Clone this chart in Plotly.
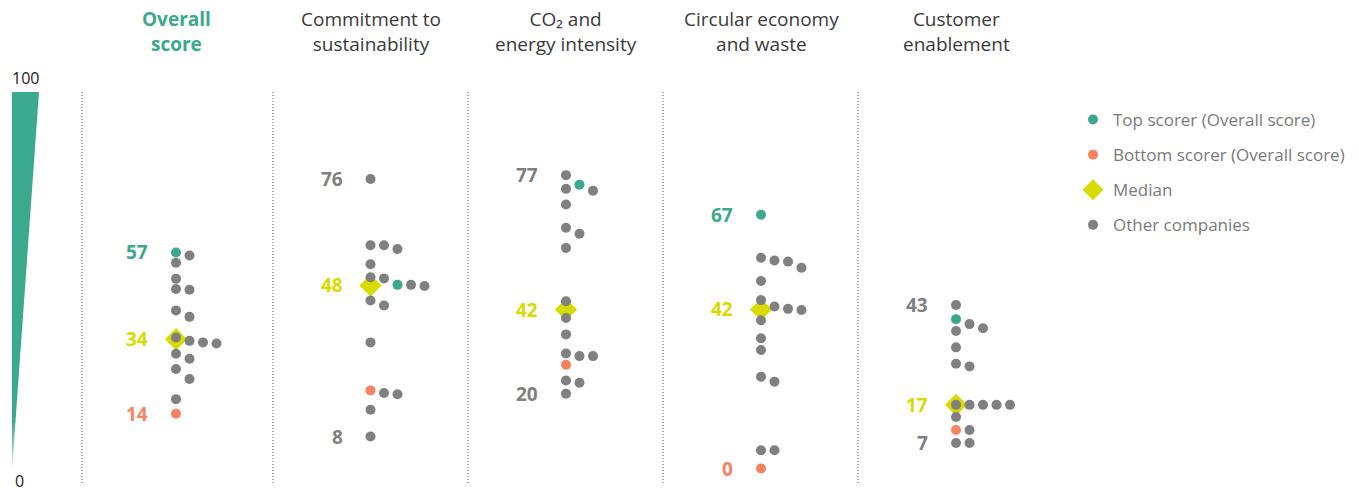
import plotly.graph_objects as go
import numpy as np

# ---------------- data ----------------
categories = ["Overall score", "Commitment to sustainability", "CO₂ and energy intensity",
              "Circular economy and waste", "Customer enablement"]
header_text = ["Overall<br>score", "Commitment to<br>sustainability",
               "CO₂ and<br>energy intensity", "Circular economy<br>and waste",
               "Customer<br>enablement"]

top_scorer = [56.7, 48.2, 74.5, 66.6, 39.2]
bottom_scorer = [14.4, 20.5, 27.2, 0.0, 10.1]

others_overall = [55.9, 54.0, 49.8, 47.1, 46.9, 41.5, 39.8, 34.4, 33.5, 33.1, 32.8, 30.1, 28.8, 26.1, 23.5, 18.2]
others_commitment = [76.0, 58.6, 58.6, 57.6, 53.6, 50.2, 49.9, 48.2, 47.9, 44.1, 42.8, 33.1, 19.8, 19.5, 15.4, 8.4]
others_co2 = [77.0, 73.4, 72.9, 69.3, 63.2, 61.6, 57.9, 43.9, 39.5, 35.2, 30.2, 29.5, 29.5, 23.1, 22.5, 19.6]
others_circular = [55.3, 54.6, 54.3, 52.7, 49.2, 44.2, 42.5, 41.9, 41.6, 38.9, 34.2, 31.1, 24.1, 22.8, 4.8, 4.8]
others_customer = [42.9, 37.9, 36.8, 36.1, 31.8, 27.5, 26.8, 16.7, 16.7, 16.7, 16.7, 16.7, 13.5, 10.1, 6.7, 6.7]
others = [others_overall, others_commitment, others_co2, others_circular, others_customer]

legend_names = ["Top scorer (Overall score)", "Bottom scorer (Overall score)", "Median", "Other companies"]

# ---------------- style / layout ----------------
W, H = 1359, 491
TEAL = "#3AA98C"
ORANGE = "#F7845F"
GRAY = "#808080"
YELLOW = "#D8DB00"
HEAD = "#3a3a3a"
FONT = "Open Sans"

COL_X = [176, 370.5, 566, 761, 956]      # column centres (px)
SLOT = 13.5                               # horizontal step of the swarm (px)
MIN_GAP = 2.65                            # min value gap in one slot
Y0_PX, PX_PER_UNIT = 468.5, 3.81          # value scale
y_top = Y0_PX / PX_PER_UNIT
y_bot = -(H - Y0_PX) / PX_PER_UNIT


def swarm(points):
    """points: list of (value, priority, kind) -> list of (slot, value, kind)"""
    pts = sorted(points, key=lambda p: (-p[0], p[1]))
    placed = []
    for v, pr, kind in pts:
        k = 0
        while any(s == k and abs(v - pv) < MIN_GAP for s, pv, _ in placed):
            k += 1
        placed.append((k, v, kind))
    return placed


xs = {"top": [], "bottom": [], "other": []}
ys = {"top": [], "bottom": [], "other": []}
medians, annotations = [], []

for i in range(len(categories)):
    pts = [(top_scorer[i], 0, "top"), (bottom_scorer[i], 1, "bottom")] + [(v, 2, "other") for v in others[i]]
    for k, v, kind in swarm(pts):
        xs[kind].append(COL_X[i] + k * SLOT)
        ys[kind].append(v)
    allv = np.array([top_scorer[i], bottom_scorer[i]] + others[i])
    vmax, vmin, vmed = allv.max(), allv.min(), float(np.median(allv))
    medians.append(vmed)
    cmax = TEAL if vmax == top_scorer[i] else GRAY
    cmin = ORANGE if vmin == bottom_scorer[i] else GRAY
    for val, col in [(vmax, cmax), (vmed, YELLOW), (vmin, cmin)]:
        annotations.append(dict(x=COL_X[i] - 26, y=val, xref="x", yref="y", text=f"{round(val)}",
                                xanchor="right", yanchor="middle", showarrow=False,
                                font=dict(family=FONT, size=19, color=col, weight="bold")))
    # header
    annotations.append(dict(x=COL_X[i], y=31, xref="x", yref="y2", text=header_text[i],
                            xanchor="center", yanchor="middle", showarrow=False,
                            font=dict(family=FONT, size=19,
                                      color=TEAL if i == 0 else HEAD,
                                      weight="bold" if i == 0 else "normal")))

annotations.append(dict(x=25.5, y=78, xref="x", yref="y2", text="100", showarrow=False,
                        xanchor="center", yanchor="middle", font=dict(family=FONT, size=16, color="#222")))
annotations.append(dict(x=19, y=480.5, xref="x", yref="y2", text="0", showarrow=False,
                        xanchor="center", yanchor="middle", font=dict(family=FONT, size=16, color="#222")))

fig = go.Figure()

# scale wedge
fig.add_trace(go.Scatter(x=[12, 39, 12, 12], y=[92, 92, 470, 92], yaxis="y2", mode="lines",
                         fill="toself", line=dict(width=0), fillcolor=TEAL,
                         fillgradient=dict(type="vertical", start=470, stop=420,
                                           colorscale=[[0, "rgba(58,169,140,0.25)"], [1, TEAL]]),
                         hoverinfo="skip", showlegend=False))

fig.add_trace(go.Scatter(x=COL_X, y=medians, mode="markers", name=legend_names[2],
                         marker=dict(symbol="diamond", size=17, color=YELLOW),
                         legendgroup="m", legendrank=3))
fig.add_trace(go.Scatter(x=xs["other"], y=ys["other"], mode="markers", name=legend_names[3],
                         marker=dict(size=10, color=GRAY), legendgroup="o", legendrank=4))
fig.add_trace(go.Scatter(x=xs["top"], y=ys["top"], mode="markers", name=legend_names[0],
                         marker=dict(size=10, color=TEAL), legendgroup="t", legendrank=1))
fig.add_trace(go.Scatter(x=xs["bottom"], y=ys["bottom"], mode="markers", name=legend_names[1],
                         marker=dict(size=10, color=ORANGE), legendgroup="b", legendrank=2))

shapes = []
for sx in [82, 273, 468, 663, 858]:
    shapes.append(dict(type="line", xref="x", yref="y2", x0=sx, x1=sx, y0=92, y1=484,
                       line=dict(color="#8a8a8a", width=1.5, dash="1px,2px")))

fig.update_layout(
    width=W, height=H, margin=dict(l=0, r=0, t=0, b=0),
    paper_bgcolor="white", plot_bgcolor="white",
    xaxis=dict(range=[0, W], visible=False, fixedrange=True),
    yaxis=dict(range=[y_bot, y_top], visible=False, fixedrange=True),
    yaxis2=dict(range=[H, 0], overlaying="y", visible=False, fixedrange=True),
    shapes=shapes, annotations=annotations,
    legend=dict(x=1073 / W, y=1 - 102 / H, xanchor="left", yanchor="top",
                font=dict(family=FONT, size=17, color="#7a7a7a"),
                tracegroupgap=10, bgcolor="rgba(0,0,0,0)"),
    showlegend=True, hovermode=False,
)

fig.write_html("out.html")
